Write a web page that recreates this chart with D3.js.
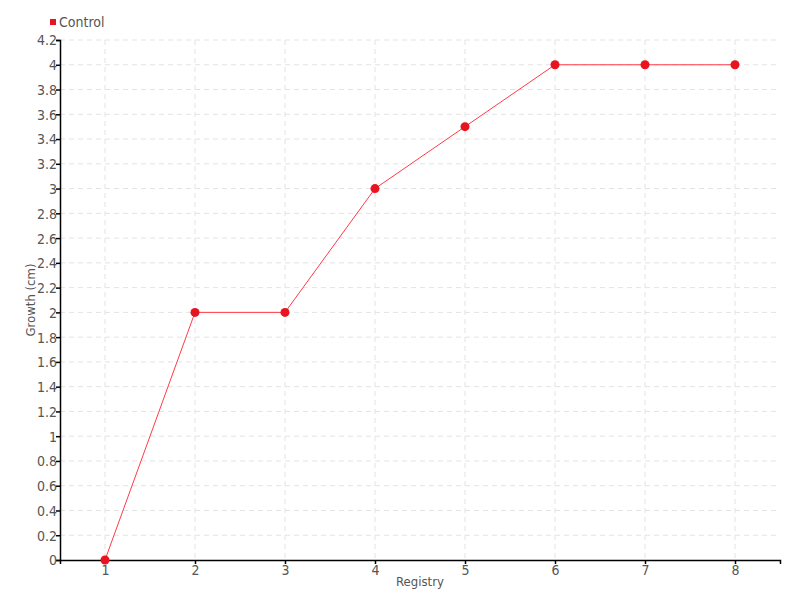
<!DOCTYPE html>
<html><head><meta charset="utf-8">
<script src="https://cdn.jsdelivr.net/npm/d3@7"></script>
<style>
body{margin:0;background:#fff;}
text{font-family:"DejaVu Sans Condensed","DejaVu Sans",sans-serif;font-stretch:condensed;}
</style></head>
<body><svg id="chart" width="800" height="600"></svg>
<script>
const registry = [1,2,3,4,5,6,7,8];
const growth = [0,2,2,3,3.5,4,4,4];
const seriesName = "Control";
const yTicks = d3.range(0,4.21,0.2).map(v=>+v.toFixed(1));
const xLabel = "Registry", yLabel = "Growth (cm)";

const svg = d3.select("#chart");
const m = {l:60, r:20, t:40, b:40};
const W = 800, H = 600;
const x = d3.scaleLinear().domain([0.5,8.5]).range([m.l, W-m.r]);
const y = d3.scaleLinear().domain([0,4.2]).range([H-m.b, m.t]);

// grid
const g = svg.append("g");
g.selectAll("line.h").data(yTicks.slice(1)).join("line")
  .attr("x1",m.l).attr("x2",W-m.r).attr("y1",d=>y(d)).attr("y2",d=>y(d))
  .attr("stroke","#e3e3e3").attr("stroke-dasharray","5,4");
g.selectAll("line.v").data(registry).join("line")
  .attr("x1",d=>x(d)).attr("x2",d=>x(d)).attr("y1",m.t).attr("y2",H-m.b)
  .attr("stroke","#e3e3e3").attr("stroke-dasharray","5,4");

// axes
const yAxis = svg.append("g").attr("transform",`translate(${m.l},0)`)
  .call(d3.axisLeft(y).tickValues(yTicks).tickSize(4).tickFormat(d=>d3.format("~g")(d)));
const xAxis = svg.append("g").attr("transform",`translate(0,${H-m.b})`)
  .call(d3.axisBottom(x).tickValues(registry).tickSize(4).tickFormat(d3.format("d")));
[yAxis,xAxis].forEach(a=>{
  a.select(".domain").attr("stroke","#000").attr("stroke-width",1.5);
  a.selectAll(".tick line").attr("stroke","#000").attr("stroke-width",1.5);
  a.selectAll(".tick text").attr("fill","#555").attr("font-size",14)
    .attr("font-family","'DejaVu Sans Condensed','DejaVu Sans',sans-serif")
    .style("font-stretch","condensed");
});
yAxis.selectAll(".tick text").attr("x",-3).attr("dy","0.35em");
xAxis.selectAll(".tick text").attr("y",5);

// axis labels
svg.append("text").attr("x",(m.l+W-m.r)/2).attr("y",586).attr("text-anchor","middle")
  .attr("fill","#555").attr("font-size",13).text(xLabel);
svg.append("text").attr("transform",`translate(35,${(m.t+H-m.b)/2}) rotate(-90)`)
  .attr("text-anchor","middle").attr("fill","#555").attr("font-size",13).text(yLabel);

// line
const data = registry.map((r,i)=>({r, v:growth[i]}));
svg.append("path").datum(data)
  .attr("fill","none").attr("stroke","#ff3b47").attr("stroke-width",1)
  .attr("d", d3.line().x(d=>x(d.r)).y(d=>y(d.v)));
svg.selectAll("circle.pt").data(data).join("circle")
  .attr("cx",d=>x(d.r)).attr("cy",d=>y(d.v)).attr("r",4.5)
  .attr("fill","#e8141f");

// legend
svg.append("rect").attr("x",50).attr("y",19).attr("width",6).attr("height",6).attr("fill","#e8141f");
svg.append("text").attr("x",59).attr("y",27).attr("fill","#555").attr("font-size",14).text(seriesName);
</script></body></html>
